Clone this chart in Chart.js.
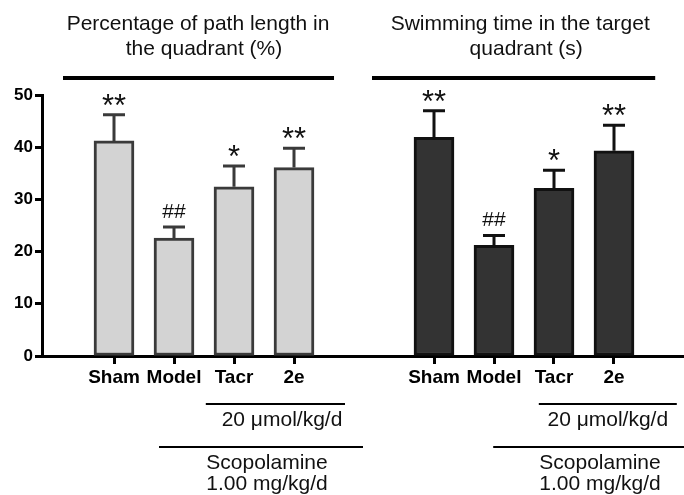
<!DOCTYPE html>
<html>
<head>
<meta charset="utf-8">
<script src="https://cdn.jsdelivr.net/npm/chart.js@4"></script>
<style>
  body { margin: 0; background: #fff; }
  #wrap { width: 684px; height: 495px; position: relative; }
</style>
</head>
<body>
<div id="wrap"><canvas id="myChart"></canvas></div>
<script>
// data
const categories = ["Sham", "Model", "Tacr", "2e"];
const pathLength = [41.2, 22.6, 32.4, 36.1];
const pathLengthErr = [5.0, 2.1, 4.0, 3.7];
const swimTime = [41.9, 21.2, 32.1, 39.3];
const swimTimeErr = [5.1, 1.9, 3.5, 4.9];
const marks = ["**", "##", "*", "**"];
const titles = [
  ["Percentage of path length in", "the quadrant (%)"],
  ["Swimming time in the target", "quadrant (s)"]
];
const doseLabel = "20 \u03bcmol/kg/d";
const scopLabel = ["Scopolamine", "1.00 mg/kg/d"];
const yTicks = [0, 10, 20, 30, 40, 50];

// second group sits a bit further than one slot away
const GROUP_SHIFT = 16 / 3;
const leftX = categories.map((c, i) => i + 1);
const rightX = categories.map((c, i) => i + 1 + GROUP_SHIFT);
const allX = leftX.concat(rightX);
const allLabels = categories.concat(categories);

const FONT = "'Liberation Sans', Arial, sans-serif";
Chart.defaults.font.family = FONT;
Chart.defaults.color = "#000";

const groupsInfo = [
  { xs: leftX, vals: pathLength, errs: pathLengthErr, color: "#3a3a3a" },
  { xs: rightX, vals: swimTime, errs: swimTimeErr, color: "#111" }
];

const decor = {
  id: "decor",
  afterDatasetsDraw(chart) {
    const ctx = chart.ctx;
    const xs = chart.scales.x, ys = chart.scales.y;
    const px = v => xs.getPixelForValue(v);
    ctx.save();

    // error bars + significance marks
    groupsInfo.forEach(g => {
      g.xs.forEach((xv, i) => {
        const x = px(xv);
        const top = ys.getPixelForValue(g.vals[i]);
        const cap = ys.getPixelForValue(g.vals[i] + g.errs[i]);
        ctx.strokeStyle = g.color;
        ctx.lineWidth = 3;
        ctx.beginPath();
        ctx.moveTo(x, top);
        ctx.lineTo(x, cap);
        ctx.moveTo(x - 11, cap);
        ctx.lineTo(x + 11, cap);
        ctx.stroke();

        const m = marks[i];
        ctx.fillStyle = "#111";
        ctx.font = (m.indexOf("#") >= 0 ? "21px " : "31px ") + FONT;
        ctx.textAlign = "center";
        ctx.textBaseline = "alphabetic";
        const mt = ctx.measureText(m);
        ctx.fillText(m, x, cap - 9 - mt.actualBoundingBoxDescent);
      });
    });

    // titles with thick rules
    const titleAt = [[2.4, 0.15, 4.667], [7.77, 5.3, 10.02]];
    ctx.fillStyle = "#111";
    ctx.font = "21px " + FONT;
    ctx.textAlign = "center";
    ctx.textBaseline = "middle";
    titleAt.forEach((t, gi) => {
      ctx.fillText(titles[gi][0], px(t[0]), 24);
      ctx.fillText(titles[gi][1], px(t[0] + 0.1), 49);
      ctx.strokeStyle = "#000";
      ctx.lineWidth = 4;
      ctx.beginPath();
      ctx.moveTo(px(t[1]), 78);
      ctx.lineTo(px(t[2]), 78);
      ctx.stroke();
    });

    // treatment brackets under the axis
    const doseAt = [[2.53, 4.85, 3.8], [8.08, 10.38, 9.23]];
    const scopAt = [[1.75, 5.15, 3.55], [7.32, 10.5, 9.1]];
    ctx.lineWidth = 2;
    doseAt.forEach(d => {
      ctx.beginPath();
      ctx.moveTo(px(d[0]), 404);
      ctx.lineTo(px(d[1]), 404);
      ctx.stroke();
      ctx.fillText(doseLabel, px(d[2]), 420);
    });
    scopAt.forEach(d => {
      ctx.beginPath();
      ctx.moveTo(px(d[0]), 447);
      ctx.lineTo(px(d[1]), 447);
      ctx.stroke();
      ctx.fillText(scopLabel[0], px(d[2]), 463);
      ctx.fillText(scopLabel[1], px(d[2]), 484);
    });
    ctx.restore();
  }
};

const barCanvas = document.getElementById("myChart");
const barChart = new Chart(barCanvas, {
  type: "bar",
  data: {
    datasets: [{
      label: "Path length",
      data: leftX.map((x, i) => ({ x: x, y: pathLength[i] })),
      backgroundColor: "#d3d3d3",
      borderColor: "#3a3a3a",
      borderWidth: 3,
      borderSkipped: false,
      barThickness: 40,
      grouped: false
    }, {
      label: "Swimming time",
      data: rightX.map((x, i) => ({ x: x, y: swimTime[i] })),
      backgroundColor: "#333333",
      borderColor: "#111111",
      borderWidth: 3,
      borderSkipped: false,
      barThickness: 40,
      grouped: false
    }]
  },
  options: {
    responsive: true,
    maintainAspectRatio: false,
    animation: false,
    layout: { padding: { top: 95, bottom: 99, left: 0, right: 0 } },
    plugins: {
      legend: { display: false },
      tooltip: { enabled: false }
    },
    scales: {
      x: {
        type: "linear",
        min: -0.2,
        max: 10.5,
        offset: false,
        afterBuildTicks: s => { s.ticks = allX.map(v => ({ value: v })); },
        afterFit: s => { s.height = 40; },
        grid: {
          offset: false,
          drawOnChartArea: false,
          tickLength: 8,
          tickWidth: 3,
          tickColor: "#000"
        },
        border: { color: "#000", width: 3 },
        ticks: {
          autoSkip: false,
          maxRotation: 0,
          padding: 2,
          color: "#000",
          font: { size: 19, weight: "bold" },
          callback: (v, i) => allLabels[i]
        }
      },
      y: {
        min: 0,
        max: 50,
        afterBuildTicks: s => { s.ticks = yTicks.map(v => ({ value: v })); },
        afterFit: s => { s.width = 42; },
        grid: {
          drawOnChartArea: false,
          tickLength: 7,
          tickWidth: 3,
          tickColor: "#000"
        },
        border: { color: "#000", width: 3 },
        ticks: {
          padding: 2,
          color: "#000",
          font: { size: 17, weight: "bold" }
        }
      }
    }
  },
  plugins: [decor]
});
</script>
</body>
</html>
